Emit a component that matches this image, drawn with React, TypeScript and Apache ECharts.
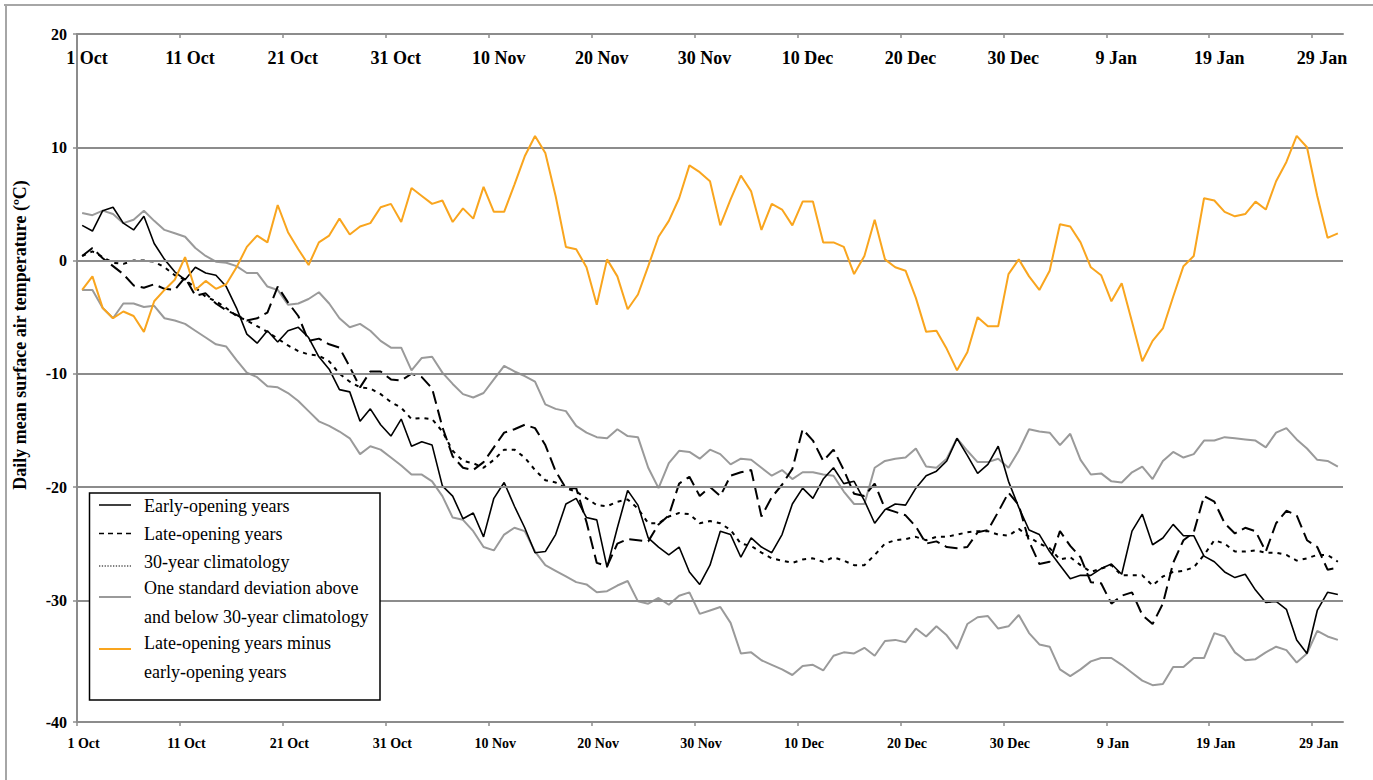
import React, { useEffect, useRef } from "react";
import * as echarts from "echarts";

// Day index 0 = 1 Oct; one value per day (1 Oct .. 31 Jan)
const dayTickValues = [0, 10, 20, 30, 40, 50, 60, 70, 80, 90, 100, 110, 120];
const dayTickLabels = ["1 Oct", "11 Oct", "21 Oct", "31 Oct", "10 Nov", "20 Nov", "30 Nov", "10 Dec", "20 Dec", "30 Dec", "9 Jan", "19 Jan", "29 Jan"];
const tempTickValues = [20, 10, 0, -10, -20, -30];
const tempGridValues = [10, 0, -10, -20, -30];
const Y_MIN = -40.75; // bottom of the axis, labelled -40
const Y_MAX = 20;
const X_MAX = 123;

const earlyOpening = [
  3.1, 2.6, 4.4, 4.7, 3.3, 2.7, 3.9, 1.5, 0.1, -1.0,
  -1.7, -0.6, -1.1, -1.3, -2.3, -4.2, -6.5, -7.3, -6.2, -7.2,
  -6.2, -5.9, -6.8, -8.5, -9.6, -11.4, -11.6, -14.2, -13.1, -14.5,
  -15.5, -14.0, -16.4, -16.0, -16.3, -19.9, -20.8, -22.8, -22.3, -24.4,
  -21.0, -19.6, -21.7, -23.6, -25.8, -25.7, -24.2, -21.5, -21.0, -22.7,
  -22.9, -27.1, -23.6, -20.3, -21.6, -24.5, -25.3, -26.0, -25.3, -27.5,
  -28.6, -26.9, -23.9, -24.2, -26.2, -24.5, -25.3, -25.8, -24.2, -21.5,
  -20.1, -21.0, -19.3, -18.3, -19.7, -19.5, -21.2, -23.2, -22.0, -21.5,
  -21.6, -20.1, -19.0, -18.6, -17.7, -15.7, -17.2, -18.8, -18.0, -16.4,
  -19.5, -21.8, -23.8, -24.2, -25.7, -26.9, -28.1, -27.8, -27.8, -27.2,
  -26.8, -27.7, -23.9, -22.4, -25.1, -24.5, -23.3, -24.3, -24.3, -26.1,
  -26.6, -27.5, -28.0, -27.7, -29.1, -30.2, -30.1, -30.8, -33.5, -34.7,
  -30.9, -29.3, -29.5,
];

const lateOpening = [
  0.4, 1.1, 0.2, -0.5, -1.2, -2.2, -2.4, -2.1, -2.5, -2.6,
  -1.5, -3.1, -2.9, -3.8, -4.4, -4.8, -5.3, -5.1, -4.6, -2.3,
  -3.7, -4.9, -7.1, -6.9, -7.4, -7.7, -9.4, -11.2, -9.8, -9.8,
  -10.5, -10.6, -10.0, -10.3, -11.3, -14.7, -17.3, -18.3, -18.5, -17.8,
  -16.5, -15.2, -14.9, -14.5, -14.8, -16.3, -18.6, -20.1, -20.1, -23.1,
  -26.7, -27.0, -25.0, -24.6, -24.7, -24.8, -23.3, -22.5, -19.7, -19.1,
  -20.8, -20.0, -20.8, -19.0, -18.7, -18.5, -22.6, -20.9, -19.8, -18.4,
  -14.9, -15.9, -17.7, -16.7, -18.5, -20.6, -20.8, -19.7, -21.9, -22.2,
  -22.5, -23.5, -25.0, -24.8, -25.3, -25.4, -25.3, -24.0, -23.8, -22.2,
  -20.5, -21.6, -24.8, -26.8, -26.6, -23.9, -25.2, -26.2, -28.4, -28.5,
  -30.3, -29.6, -29.3, -31.3, -32.1, -30.3, -26.7, -24.7, -24.0, -20.8,
  -21.3, -23.2, -24.1, -23.6, -23.9, -25.7, -23.2, -22.1, -22.5, -24.7,
  -25.3, -27.3, -27.1,
];

const climatology = [
  0.4, 0.8, 0.3, -0.2, -0.3, 0.0, 0.0, -0.1, -0.6, -1.3,
  -1.7, -2.4, -3.2, -3.6, -4.2, -4.9, -5.3, -5.8, -6.3, -6.9,
  -7.5, -8.0, -8.3, -8.4, -8.9, -10.0, -10.7, -11.2, -11.3, -11.8,
  -12.5, -13.0, -14.0, -13.9, -14.0, -15.1, -16.8, -17.7, -17.9, -18.3,
  -17.6, -16.7, -16.7, -17.4, -18.5, -19.4, -19.6, -20.1, -20.4, -21.0,
  -21.6, -21.7, -21.3, -21.1, -21.9, -23.2, -23.2, -22.6, -22.3, -22.4,
  -23.2, -23.0, -23.2, -23.8, -25.0, -25.2, -25.8, -26.3, -26.5, -26.7,
  -26.4, -26.3, -26.6, -26.2, -26.5, -26.9, -26.9, -26.0, -25.0, -24.7,
  -24.6, -24.4, -24.7, -24.4, -24.4, -24.2, -24.0, -23.9, -23.9, -24.2,
  -24.3, -23.7, -24.4, -25.0, -25.4, -26.4, -26.2, -26.9, -27.5, -27.2,
  -26.9, -27.8, -27.8, -27.8, -28.7, -27.9, -27.5, -27.4, -27.1, -26.0,
  -24.7, -25.0, -25.7, -25.7, -25.6, -25.8, -25.8, -26.0, -26.5, -26.3,
  -26.0, -26.0, -26.6,
];

const stdAbove = [
  4.2, 4.0, 4.4, 4.1, 3.3, 3.6, 4.4, 3.5, 2.7, 2.4,
  2.1, 1.1, 0.4, -0.1, -0.2, -0.5, -1.1, -1.1, -2.3, -2.6,
  -3.9, -3.8, -3.4, -2.8, -3.8, -5.1, -5.9, -5.6, -6.2, -7.1,
  -7.7, -7.7, -9.7, -8.6, -8.5, -9.9, -10.9, -11.8, -12.1, -11.7,
  -10.5, -9.3, -9.8, -10.2, -10.7, -12.7, -13.1, -13.3, -14.6, -15.2,
  -15.6, -15.7, -14.9, -15.5, -15.6, -18.3, -20.1, -17.9, -16.8, -16.9,
  -17.5, -16.7, -17.1, -18.0, -17.5, -17.6, -18.3, -19.0, -18.5, -19.3,
  -18.7, -18.7, -18.9, -19.0, -20.4, -21.5, -21.5, -18.3, -17.7, -17.5,
  -17.4, -16.6, -18.2, -18.3, -17.5, -15.7, -16.8, -17.8, -17.8, -17.5,
  -18.3, -16.8, -14.9, -15.1, -15.2, -16.3, -15.3, -17.6, -18.9, -18.8,
  -19.5, -19.6, -18.7, -18.2, -19.3, -17.7, -16.9, -17.4, -17.1, -15.9,
  -15.9, -15.6, -15.7, -15.8, -15.9, -16.5, -15.2, -14.8, -15.8, -16.6,
  -17.6, -17.7, -18.2,
];

const stdBelow = [
  -2.6, -2.6, -4.2, -5.1, -3.8, -3.8, -4.1, -4.0, -5.1, -5.3,
  -5.6, -6.2, -6.8, -7.4, -7.6, -8.8, -9.9, -10.3, -11.1, -11.2,
  -11.7, -12.4, -13.3, -14.2, -14.6, -15.1, -15.7, -17.1, -16.4, -16.7,
  -17.4, -18.1, -18.9, -18.9, -19.5, -20.8, -22.7, -22.9, -23.9, -25.3,
  -25.6, -24.2, -23.6, -23.9, -25.7, -26.9, -27.4, -27.9, -28.4, -28.6,
  -29.3, -29.2, -28.7, -28.3, -30.1, -30.3, -29.8, -30.4, -29.6, -29.3,
  -31.2, -30.9, -30.6, -32.0, -34.7, -34.6, -35.3, -35.7, -36.1, -36.6,
  -35.8, -35.7, -36.2, -34.9, -34.6, -34.7, -34.2, -34.9, -33.6, -33.5,
  -33.7, -32.5, -33.2, -32.3, -33.1, -34.3, -32.1, -31.5, -31.4, -32.5,
  -32.3, -31.3, -32.9, -33.9, -34.1, -36.1, -36.7, -36.1, -35.4, -35.1,
  -35.1, -35.7, -36.4, -37.1, -37.5, -37.4, -35.9, -35.9, -35.1, -35.1,
  -32.9, -33.2, -34.6, -35.3, -35.2, -34.6, -34.1, -34.4, -35.5, -34.7,
  -32.7, -33.2, -33.5,
];

const lateMinusEarly = [
  -2.6, -1.4, -4.2, -5.1, -4.5, -4.9, -6.3, -3.6, -2.6, -1.7,
  0.3, -2.6, -1.8, -2.5, -2.1, -0.6, 1.2, 2.2, 1.6, 4.9,
  2.5, 1.0, -0.4, 1.6, 2.2, 3.7, 2.3, 3.0, 3.3, 4.7,
  5.0, 3.4, 6.4, 5.7, 5.0, 5.3, 3.4, 4.6, 3.7, 6.5,
  4.3, 4.3, 6.7, 9.2, 11.0, 9.5, 5.7, 1.2, 1.0, -0.6,
  -3.9, 0.1, -1.4, -4.3, -3.0, -0.5, 2.1, 3.5, 5.5, 8.4,
  7.8, 7.0, 3.1, 5.4, 7.5, 6.1, 2.7, 5.0, 4.5, 3.1,
  5.2, 5.2, 1.6, 1.6, 1.2, -1.2, 0.4, 3.6, 0.1, -0.6,
  -0.9, -3.3, -6.3, -6.2, -7.8, -9.7, -8.1, -5.0, -5.8, -5.8,
  -1.2, 0.1, -1.4, -2.6, -0.9, 3.2, 3.0, 1.6, -0.6, -1.3,
  -3.6, -2.0, -5.4, -8.9, -7.1, -6.0, -3.2, -0.5, 0.4, 5.5,
  5.3, 4.3, 3.9, 4.1, 5.2, 4.5, 7.0, 8.7, 11.0, 10.0,
  5.7, 2.0, 2.4,
];

const SERIF = "'Liberation Serif', 'Times New Roman', serif";
const AXIS_GREY = "#8c8c8c";
const STD_GREY = "#9a9a9a";
const ORANGE = "#F9A51E";
const LEGEND_FONT = 18;

const toPoints = (vals: number[]) => vals.map((v, i) => [i + 0.5, v]);
const dayLabel = (v: number) => {
  const k = dayTickValues.indexOf(Math.round(v));
  return k >= 0 && Math.abs(v - Math.round(v)) < 1e-6 ? dayTickLabels[k] : "";
};

export default function App() {
  const ref = useRef<HTMLDivElement | null>(null);

  useEffect(() => {
    if (!ref.current) return;
    const chart = echarts.init(ref.current, null, { renderer: "svg" });

    const lineSeries = (name: string, data: number[], color: string, width: number, type: any, z: number) => ({
      name,
      type: "line",
      data: toPoints(data),
      showSymbol: false,
      symbol: "none",
      smooth: false,
      z,
      lineStyle: { color, width, type },
      itemStyle: { color },
      silent: true,
    });

    const legendText = (y: number, text: string) => ({
      type: "text",
      z: 101,
      x: 144,
      y,
      style: {
        text,
        fontFamily: SERIF,
        fontSize: LEGEND_FONT,
        lineHeight: 28.5,
        fill: "#000",
        align: "left",
        verticalAlign: "middle",
      },
    });

    chart.setOption({
      animation: false,
      backgroundColor: "#ffffff",
      grid: { left: 77, top: 34, width: 1266, height: 688, containLabel: false, outerBoundsMode: "none" },
      xAxis: [
        {
          type: "value",
          min: 0,
          max: X_MAX,
          position: "bottom",
          axisLine: { show: true, onZero: false, lineStyle: { color: AXIS_GREY, width: 2 } },
          axisTick: { show: true, customValues: dayTickValues, length: 4, lineStyle: { color: AXIS_GREY, width: 1.5 } },
          axisLabel: {
            customValues: dayTickValues,
            formatter: (v: number) => dayLabel(v),
            fontFamily: SERIF,
            fontWeight: "bold",
            fontSize: 14,
            color: "#000",
            margin: 14,
            padding: [0, 0, 0, 13],
          },
          splitLine: { show: false },
        },
        {
          type: "value",
          min: 0,
          max: X_MAX,
          position: "top",
          axisLine: { show: true, onZero: false, lineStyle: { color: AXIS_GREY, width: 2 } },
          axisTick: { show: true, inside: true, customValues: dayTickValues, length: 4, lineStyle: { color: AXIS_GREY, width: 1.5 } },
          axisLabel: {
            inside: true,
            customValues: dayTickValues,
            formatter: (v: number) => dayLabel(v),
            fontFamily: SERIF,
            fontWeight: "bold",
            fontSize: 18,
            color: "#000",
            margin: 15,
            padding: [0, 0, 0, 20],
          },
          splitLine: { show: false },
        },
      ],
      yAxis: {
        type: "value",
        min: Y_MIN,
        max: Y_MAX,
        axisLine: { show: true, onZero: false, lineStyle: { color: AXIS_GREY, width: 2 } },
        axisTick: { show: true, customValues: [...tempTickValues, Y_MIN], length: 4, lineStyle: { color: AXIS_GREY, width: 1.5 } },
        axisLabel: {
          customValues: [...tempTickValues, Y_MIN],
          formatter: (v: number) => (v < -40 ? "-40" : String(v)),
          fontFamily: SERIF,
          fontWeight: "bold",
          fontSize: 16,
          color: "#000",
          margin: 10,
        },
        splitLine: { show: false },
      },
      series: [
        {
          name: "grid",
          type: "line",
          data: [],
          silent: true,
          z: 1,
          markLine: {
            silent: true,
            symbol: ["none", "none"],
            label: { show: false },
            lineStyle: { color: AXIS_GREY, width: 2, type: "solid" },
            data: tempGridValues.map((v) => ({ yAxis: v })),
          },
        },
        lineSeries("One standard deviation above", stdAbove, STD_GREY, 2, "solid", 2),
        lineSeries("One standard deviation below", stdBelow, STD_GREY, 2, "solid", 2),
        lineSeries("30-year climatology", climatology, "#000", 2, [4, 5], 3),
        lineSeries("Late-opening years", lateOpening, "#000", 2, [13, 6], 3),
        lineSeries("Early-opening years", earlyOpening, "#000", 1.6, "solid", 4),
        lineSeries("Late-opening years minus early-opening years", lateMinusEarly, ORANGE, 2, "solid", 5),
      ],
      graphic: [
        // outer frame edges
        { type: "line", silent: true, z: 50, shape: { x1: 4, y1: 5, x2: 1373, y2: 5 }, style: { stroke: "#a6a6a6", lineWidth: 2 } },
        { type: "line", silent: true, z: 50, shape: { x1: 6, y1: 4, x2: 6, y2: 780 }, style: { stroke: "#a6a6a6", lineWidth: 2 } },
        // y-axis title
        {
          type: "text",
          silent: true,
          z: 50,
          x: 20,
          y: 335,
          rotation: Math.PI / 2,
          style: {
            text: "Daily mean surface air temperature (ºC)",
            fontFamily: SERIF,
            fontWeight: "bold",
            fontSize: 18,
            fill: "#000",
            align: "center",
            verticalAlign: "middle",
          },
        },
        // legend
        {
          type: "group",
          silent: true,
          z: 100,
          children: [
            { type: "rect", z: 100, shape: { x: 89.5, y: 493, width: 290.5, height: 207 }, style: { fill: "#fff", stroke: "#000", lineWidth: 1.5 } },
            { type: "line", z: 101, shape: { x1: 99, y1: 505, x2: 131, y2: 505 }, style: { stroke: "#000", lineWidth: 1.5 } },
            { type: "line", z: 101, shape: { x1: 99, y1: 533.5, x2: 131, y2: 533.5 }, style: { stroke: "#000", lineWidth: 1.5, lineDash: [5, 4] } },
            { type: "line", z: 101, shape: { x1: 99, y1: 566, x2: 131, y2: 566 }, style: { stroke: "#000", lineWidth: 1.2, lineDash: [1.3, 1.5] } },
            { type: "line", z: 101, shape: { x1: 99, y1: 597, x2: 131, y2: 597 }, style: { stroke: STD_GREY, lineWidth: 2 } },
            { type: "line", z: 101, shape: { x1: 99, y1: 649, x2: 131, y2: 649 }, style: { stroke: ORANGE, lineWidth: 2 } },
            legendText(506, "Early-opening years"),
            legendText(534, "Late-opening years"),
            legendText(562, "30-year climatology"),
            legendText(602.5, "One standard deviation above\nand below 30-year climatology"),
            legendText(657.5, "Late-opening years minus\nearly-opening years"),
          ],
        },
      ],
    });

    return () => {
      chart.dispose();
    };
  }, []);

  return (
    <div
      ref={ref}
      style={{ position: "fixed", left: 0, top: 0, width: 1373, height: 780, background: "#fff" }}
    />
  );
}
